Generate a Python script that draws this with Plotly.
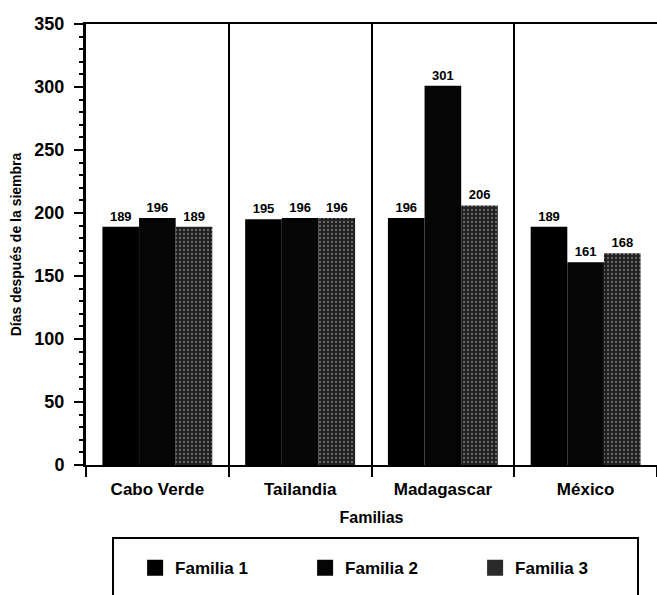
import plotly.graph_objects as go

# Data: days after sowing per family and country
paises = ["Cabo Verde", "Tailandia", "Madagascar", "México"]
familia_1 = [189, 195, 196, 189]
familia_2 = [196, 196, 301, 161]
familia_3 = [189, 196, 206, 168]
series_names = ["Familia 1", "Familia 2", "Familia 3"]

FONT = "Liberation Sans, Arial, sans-serif"

fig = go.Figure()

bar_styles = [
    dict(color="#000000"),
    dict(color="#050505"),
    dict(color="#262626",
         pattern=dict(shape=".", fgcolor="#b8b8b8", bgcolor="#1e1e1e",
                      size=4, solidity=0.25, fillmode="overlay")),
]

for name, vals, style in zip(series_names, [familia_1, familia_2, familia_3], bar_styles):
    fig.add_trace(go.Bar(
        x=paises, y=vals, name=name,
        marker=dict(line=dict(width=0), **style),
        text=vals, texttemplate="%{y}", textposition="outside",
        textfont=dict(family=FONT, size=13, color="black", weight="bold"),
        cliponaxis=False, showlegend=False,
    ))

# Legend entries with larger square swatches
legend_colors = ["#000000", "#050505", "#2a2a2a"]
for name, col in zip(series_names, legend_colors):
    fig.add_trace(go.Scatter(
        x=[None], y=[None], mode="markers", name=name,
        marker=dict(symbol="square", size=16, color=col),
        showlegend=True,
    ))

fig.update_layout(
    width=657, height=595,
    margin=dict(l=86, r=0, t=24, b=130),
    paper_bgcolor="white", plot_bgcolor="white",
    barmode="group", bargap=0.23, bargroupgap=0,
    font=dict(family=FONT, color="black"),
    showlegend=True,
    legend=dict(
        orientation="h", x=0.086, xanchor="left", y=-0.234, yanchor="middle",
        font=dict(family=FONT, size=17, color="black", weight="bold"),
        entrywidth=125, entrywidthmode="pixels",
        bgcolor="rgba(0,0,0,0)", borderwidth=0,
    ),
    shapes=[dict(
        type="rect", xref="paper", yref="paper",
        x0=0.0473, x1=0.9667, y0=-0.1655, y1=-0.31,
        line=dict(color="black", width=2), fillcolor="rgba(0,0,0,0)",
    )],
)

fig.update_xaxes(
    showline=True, linecolor="black", linewidth=2, mirror=True,
    tickson="boundaries", ticks="outside", ticklen=10, tickwidth=2, tickcolor="black",
    showgrid=True, gridcolor="black", gridwidth=2,
    ticklabelstandoff=8,
    tickfont=dict(family=FONT, size=17, color="black", weight="bold"),
    title=dict(text="Familias", standoff=13,
               font=dict(family=FONT, size=16, color="black", weight="bold")),
)

fig.update_yaxes(
    range=[0, 350], dtick=50, tick0=0,
    showline=True, linecolor="black", linewidth=3, mirror=False,
    ticks="outside", ticklen=9, tickwidth=2, tickcolor="black",
    minor=dict(dtick=10, ticks="outside", ticklen=4, tickwidth=2, tickcolor="black"),
    showgrid=False, zeroline=False,
    ticklabelstandoff=6,
    tickfont=dict(family=FONT, size=18, color="black", weight="bold"),
    title=dict(text="Días después de la siembra", standoff=10,
               font=dict(family=FONT, size=14, color="black", weight="bold")),
)

fig.write_html("out.html")
